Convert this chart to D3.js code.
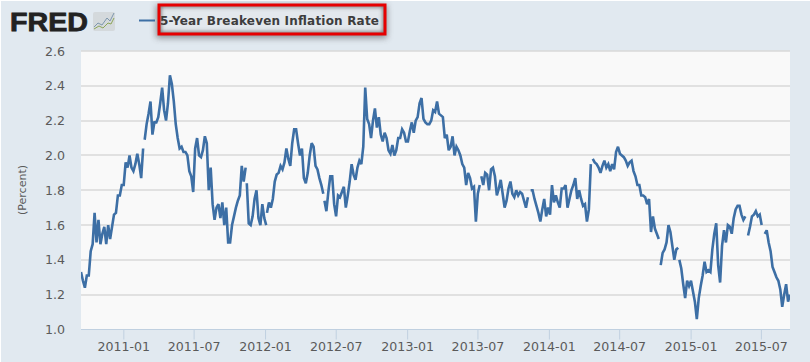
<!DOCTYPE html>
<html><head><meta charset="utf-8">
<script src="https://cdn.jsdelivr.net/npm/d3@7"></script>
<style>html,body{margin:0;padding:0;background:#fff;overflow:hidden}svg{display:block}</style>
</head><body><div id="chart"></div>
<script>
const seriesName = "5-Year Breakeven Inflation Rate";
const yTicks = [1.0,1.2,1.4,1.6,1.8,2.0,2.2,2.4,2.6];
const xTickLabels = ["2011-01","2011-07","2012-01","2012-07","2013-01","2013-07","2014-01","2014-07","2015-01","2015-07"];
const stepDays = 5;
const segmentStarts = ["2010-09-14","2011-02-25","2011-11-15","2012-01-06","2012-06-02","2013-07-11","2013-11-15","2014-04-24","2014-10-16","2014-12-03","2015-05-29","2015-07-11"];
const segA = [1.33,1.28,1.24,1.31,1.31,1.45,1.49,1.67,1.50,1.63,1.49,1.55,1.59,1.49,1.60,1.52,1.59,1.66,1.67,1.77,1.77,1.83,1.83,1.96,1.93,2.00,1.93,1.91,1.95,2.01,1.95,1.87,2.04];
const segB = [2.09,2.18,2.24,2.31,2.12,2.19,2.19,2.22,2.30,2.39,2.26,2.20,2.30,2.46,2.41,2.31,2.18,2.10,2.04,2.05,2.02,2.02,2.00,1.91,1.88,1.79,2.04,2.10,2.00,1.99,2.03,2.11,2.07,1.80,1.93,1.72,1.63,1.70,1.72,1.64,1.73,1.60,1.70,1.50,1.50,1.60,1.65,1.70,1.74,1.77,1.94,1.85,1.93];
const segC = [1.84,1.61,1.60,1.65,1.75,1.80,1.64,1.60,1.72,1.64,1.60];
const segD = [1.67,1.73,1.70,1.75,1.85,1.89,1.90,1.94,1.92,1.96,2.04,1.98,1.94,2.07,2.15,2.15,2.07,2.00,2.04,1.87,1.84,1.90,2.00,2.07,2.05,1.94,1.92,1.87,1.83,1.78];
const segE = [1.74,1.68,1.79,1.88,1.88,1.72,1.65,1.77,1.76,1.79,1.82,1.70,1.77,1.85,1.95,1.89,1.86,1.93,1.97,1.95,2.05,2.39,2.21,2.18,2.10,2.20,2.27,2.16,2.22,2.12,2.08,2.13,2.10,2.03,2.01,2.06,2.00,2.03,2.10,2.10,2.15,2.13,2.08,2.08,2.14,2.19,2.13,2.20,2.22,2.30,2.33,2.21,2.19,2.18,2.18,2.20,2.26,2.25,2.31,2.24,2.23,2.22,2.10,2.12,2.03,2.05,2.11,2.00,2.05,2.03,2.00,1.95,1.93,1.83,1.90,1.87,1.81,1.82,1.62,1.78,1.83];
const segF = [1.88,1.83,1.90,1.89,1.80,1.92,1.93,1.88,1.77,1.81,1.86,1.78,1.70,1.74,1.81,1.85,1.78,1.76,1.80,1.77,1.79,1.78,1.74,1.70,1.76];
const segG = [1.80,1.80,1.75,1.71,1.67,1.62,1.69,1.75,1.65,1.70,1.66,1.83,1.73,1.77,1.73,1.70,1.81,1.81,1.83,1.70,1.75,1.80,1.83,1.87,1.75,1.80,1.75,1.71,1.72,1.62,1.69,1.95];
const segH = [1.98,1.96,1.95,1.93,1.90,1.94,1.97,1.93,1.95,1.91,1.95,1.92,2.02,2.05,2.01,2.00,1.99,1.97,1.94,1.96,1.97,1.91,1.88,1.83,1.83,1.77,1.77,1.76,1.72,1.75,1.56,1.65,1.58,1.55,1.52];
const segI = [1.37,1.44,1.46,1.50,1.60,1.56,1.48,1.40,1.46,1.47];
const segJ = [1.40,1.35,1.26,1.18,1.28,1.25,1.28,1.22,1.16,1.06,1.18,1.25,1.31,1.39,1.33,1.34,1.33,1.46,1.55,1.61,1.37,1.27,1.48,1.57,1.50,1.60,1.59,1.55,1.64,1.69,1.71,1.71,1.66,1.63,1.65];
const segK = [1.54,1.59,1.65,1.66,1.68,1.65,1.66,1.60];
const segL = [1.55,1.57,1.50,1.45,1.36,1.33,1.30,1.28,1.23,1.13,1.20,1.26,1.16,1.20];
const segments = [segA,segB,segC,segD,segE,segF,segG,segH,segI,segJ,segK,segL];

(function(){
const W = 810, H = 362;
const pLeft = 81, pRight = 790, pTop = 51, pBottom = 329.5;
const parse = d3.utcParse("%Y-%m-%d");
const parseMonth = d3.utcParse("%Y-%m");
const x = d3.scaleUtc().domain([parse("2010-09-14"), parse("2015-09-14")]).range([pLeft, pRight]);
const y = d3.scaleLinear().domain([1.0, 2.6]).range([pBottom, pTop]);

const svg = d3.select("#chart").append("svg").attr("width", W).attr("height", H);
const FONT = "'DejaVu Sans', Verdana, sans-serif";
svg.append("rect").attr("x",1).attr("y",1).attr("width",W-1).attr("height",H-1).attr("fill","#e1e9f0");
svg.append("rect").attr("x",pLeft).attr("y",pTop).attr("width",pRight-pLeft).attr("height",pBottom-pTop).attr("fill","#f9f9f9");

const defs = svg.append("defs");
defs.append("clipPath").attr("id","plot").append("rect").attr("x",pLeft).attr("y",pTop-5).attr("width",pRight-pLeft).attr("height",pBottom-pTop+5);
defs.append("clipPath").attr("id","legendBox").append("rect").attr("x",159).attr("y",5).attr("width",226).attr("height",29);
const f = defs.append("filter").attr("id","shadow").attr("x","-10%").attr("y","-40%").attr("width","120%").attr("height","180%");
f.append("feGaussianBlur").attr("stdDeviation",3);
const f2 = defs.append("filter").attr("id","glow").attr("x","-10%").attr("y","-40%").attr("width","120%").attr("height","180%");
f2.append("feGaussianBlur").attr("stdDeviation",2);

// grid
svg.append("g").selectAll("line").data(yTicks.slice(1)).join("line")
  .attr("x1",pLeft).attr("x2",pRight)
  .attr("y1",d=>Math.round(y(d))).attr("y2",d=>Math.round(y(d)))
  .attr("stroke","#d8d8d8").attr("stroke-width",1.4);

// axes
const xAxis = d3.axisBottom(x)
  .tickValues(xTickLabels.map(parseMonth))
  .tickFormat(d3.utcFormat("%Y-%m")).tickSize(10).tickPadding(0);
const gx = svg.append("g").attr("transform",`translate(0,${pBottom})`).call(xAxis);
gx.select(".domain").attr("d",`M${pLeft},0H${pRight}`).attr("stroke","#c0d0e0").attr("stroke-width",1.2);
gx.selectAll(".tick line").attr("stroke","#c0d0e0");
gx.selectAll("text").attr("font-family",FONT).attr("font-size",12.6).attr("fill","#5a5a5a").attr("dy","0.95em");

const yAxis = d3.axisLeft(y).tickValues(yTicks).tickFormat(d3.format(".1f")).tickSize(0).tickPadding(16);
const gy = svg.append("g").attr("transform",`translate(${pLeft},0)`).call(yAxis);
gy.select(".domain").remove();
gy.selectAll("text").attr("font-family",FONT).attr("font-size",12.6).attr("fill","#5a5a5a");

svg.append("text").attr("transform","translate(26,190) rotate(-90)")
  .attr("text-anchor","middle").attr("font-family",FONT).attr("font-size",11).attr("fill","#5a5a5a").text("(Percent)");

// series
const line = d3.line().x(d=>x(d.date)).y(d=>y(d.value));
const pts = segments.map((vals,k)=>vals.map((value,i)=>({date:d3.utcDay.offset(parse(segmentStarts[k]),i*stepDays),value})));
svg.append("g").attr("clip-path","url(#plot)").selectAll("path").data(pts).join("path")
  .attr("d",line).attr("fill","none").attr("stroke","#3d6fa5").attr("stroke-width",2.6)
  .attr("stroke-linejoin","miter").attr("stroke-miterlimit",3).attr("stroke-linecap","butt");

// logo
svg.append("text").attr("x",10).attr("y",31).attr("font-family","'Liberation Sans',Arial,sans-serif")
  .attr("font-weight",700).attr("font-size",26).attr("textLength",78).attr("lengthAdjust","spacingAndGlyphs")
  .attr("stroke","#222").attr("stroke-width",0.8).attr("fill","#222").text("FRED");
svg.append("rect").attr("x",93).attr("y",12).attr("width",22).attr("height",19).attr("rx",2).attr("fill","#d4d9dc");
svg.append("polyline").attr("points","94,27 98,23 102,25 107,18 110,21 114,13").attr("fill","none").attr("stroke","#7d97ad").attr("stroke-width",1);
svg.append("polyline").attr("points","94,29 99,26 103,28 108,23 111,24 114,18").attr("fill","none").attr("stroke","#8da65a").attr("stroke-width",1);

// legend
svg.append("rect").attr("x",156).attr("y",5).attr("width",231).attr("height",33).attr("fill","#444").attr("opacity",0.55).attr("filter","url(#shadow)");
svg.append("rect").attr("x",159).attr("y",5).attr("width",226).attr("height",29).attr("fill","#e3e8ed");
svg.append("g").attr("clip-path","url(#legendBox)").append("rect").attr("x",159).attr("y",5).attr("width",226).attr("height",29)
  .attr("fill","none").attr("stroke","#666").attr("stroke-width",4).attr("filter","url(#glow)");
svg.append("rect").attr("x",159).attr("y",5).attr("width",226).attr("height",29).attr("fill","none").attr("stroke","#e60000").attr("stroke-width",3);
svg.append("line").attr("x1",139).attr("x2",155).attr("y1",20.5).attr("y2",20.5).attr("stroke","#3d6fa5").attr("stroke-width",2);
svg.append("text").attr("x",160).attr("y",25).attr("font-family",FONT).attr("font-weight",700).attr("font-size",12)
  .attr("fill","#3d3d3d").attr("textLength",219).text(seriesName);
})();
</script></body></html>
